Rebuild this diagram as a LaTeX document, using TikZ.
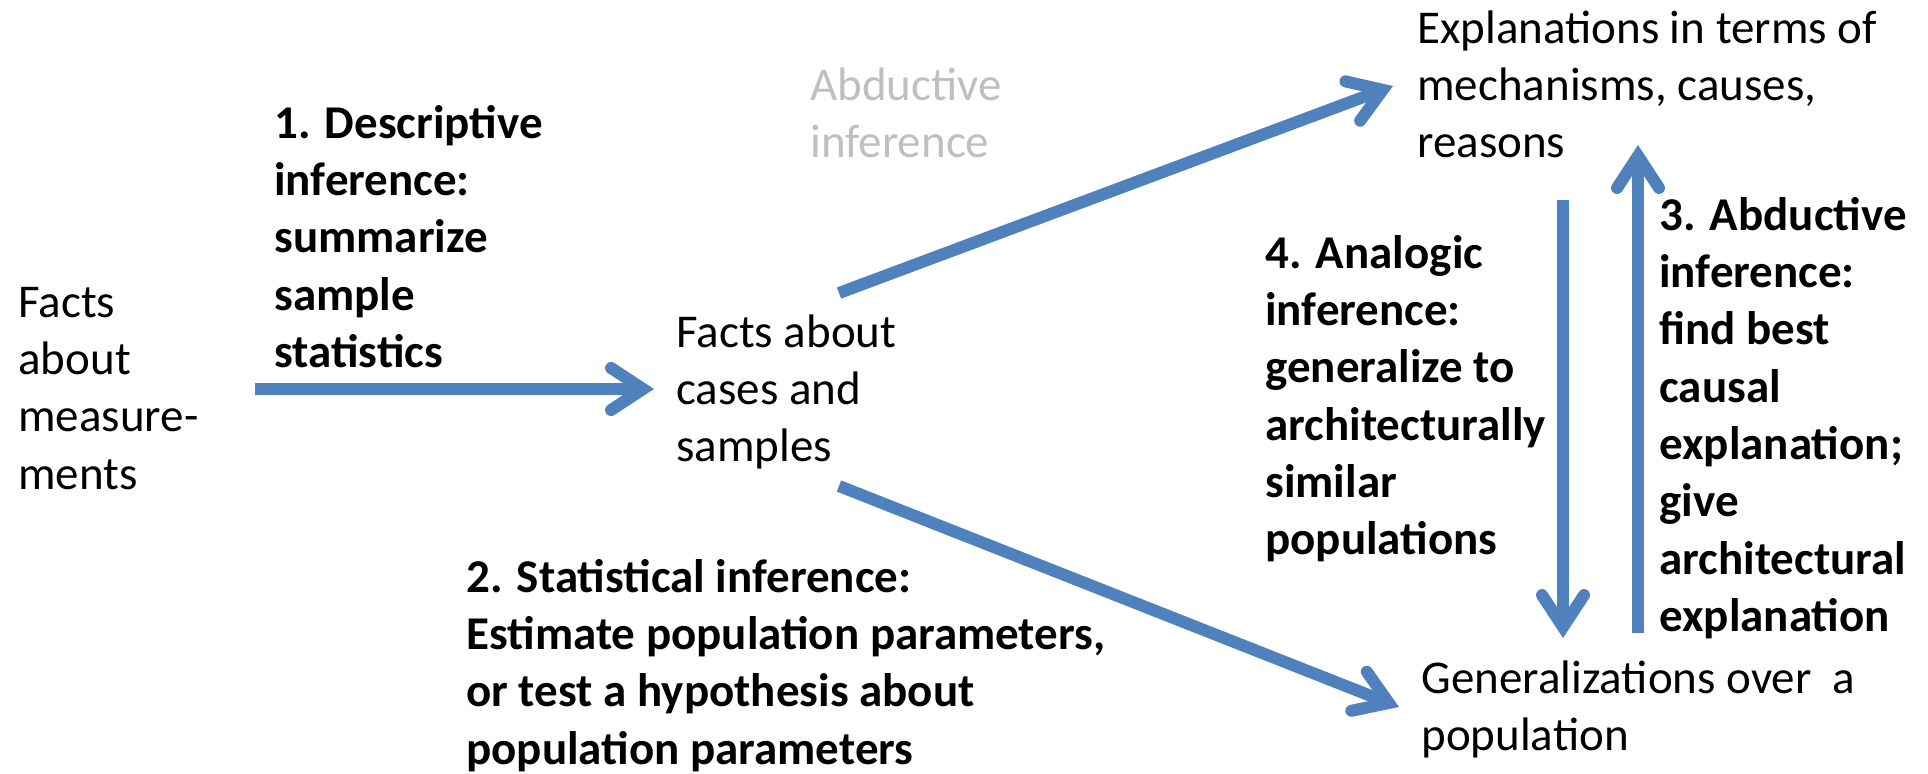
\documentclass[tikz,border=0pt]{standalone}
\usepackage{fontspec}
\setmainfont{Carlito}
\usetikzlibrary{arrows.meta}
\definecolor{flowblue}{HTML}{4F81BD}
\definecolor{softgray}{HTML}{BFBFBF}
\tikzset{
  txt/.style={anchor=north west, inner sep=0pt, align=left,
    font=\fontsize{23.5pt}{28.65pt}\selectfont},
  boldtxt/.style={txt, font=\fontsize{23.5pt}{28.65pt}\selectfont\bfseries},
  flow/.style={draw=flowblue, line width=6pt,
    -{Straight Barb[length=16pt, width=21pt, line cap=round, line join=miter]}},
}
\begin{document}
\begin{tikzpicture}[x=0.5pt, y=-0.5pt]
\useasboundingbox (0,0) rectangle (1928,773);

% text blocks (top edge = first baseline minus strut height)
\node[txt] (facts) at (18,276.75) {\strut Facts\\about\\measure-\\ments};
\node[boldtxt] (desc) at (274,97.75) {\strut 1. Descriptive\\inference:\\summarize\\sample\\statistics};
\node[txt, text=softgray] (abdgray) at (810,59.75) {\strut Abductive\\inference};
\node[txt] (cases) at (676,306.75) {\strut Facts about\\cases and\\samples};
\node[txt] (expl) at (1417,2.75) {\strut Explanations in terms of\\mechanisms, causes,\\reasons};
\node[boldtxt] (analog) at (1265,227.75) {\strut 4. Analogic\\inference:\\generalize to\\architecturally\\similar\\populations};
\node[boldtxt] (abd) at (1659,189.75) {\strut 3. Abductive\\inference:\\find best\\causal\\explanation;\\give\\architectural\\explanation};
\node[boldtxt] (stat) at (466,551.75) {\strut 2. Statistical inference:\\Estimate population parameters,\\or test a hypothesis about\\population parameters};
\node[txt] (gen) at (1421,652.75) {\strut Generalizations over\ \ a\\population};

% arrow end points
\coordinate (descA) at (255,389);
\coordinate (descB) at (654,389);
\coordinate (upA) at (839,293);
\coordinate (upB) at (1393,86);
\coordinate (statA) at (839,486);
\coordinate (statB) at (1399,707);
\coordinate (anaA) at (1563,200);
\coordinate (anaB) at (1563,638);
\coordinate (abdA) at (1638,633);
\coordinate (abdB) at (1638,145);

\draw[flow] (descA) -- (descB);
\draw[flow] (upA) -- (upB);
\draw[flow] (statA) -- (statB);
\draw[flow] (anaA) -- (anaB);
\draw[flow] (abdA) -- (abdB);
\end{tikzpicture}
\end{document}
